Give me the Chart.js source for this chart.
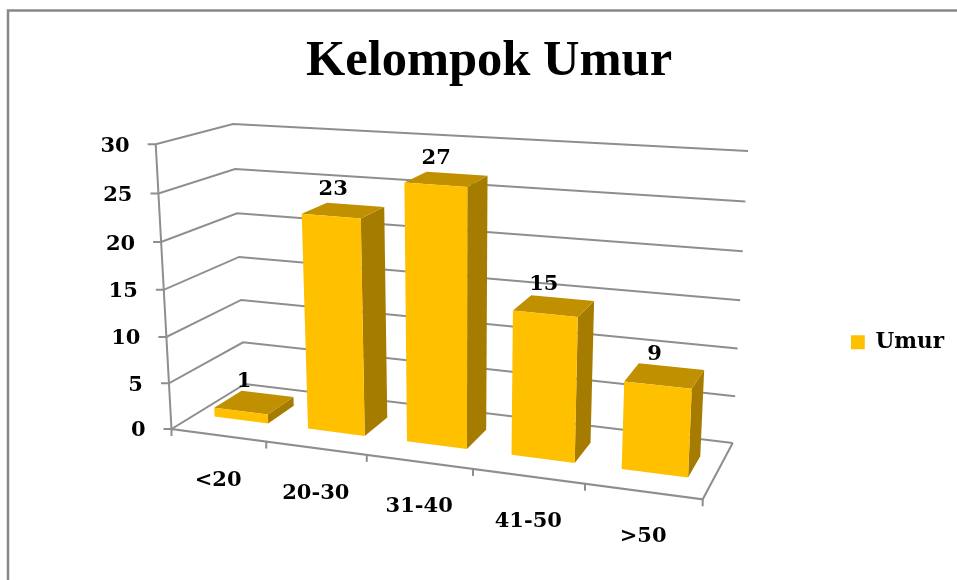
<!DOCTYPE html>
<html>
<head>
<meta charset="utf-8">
<title>Kelompok Umur</title>
<script src="https://cdn.jsdelivr.net/npm/chart.js@4/dist/chart.umd.min.js"></script>
<style>
  html, body { margin: 0; padding: 0; background: #fff; overflow: hidden; }
  #wrap { width: 957px; height: 580px; }
</style>
</head>
<body>
<div id="wrap"><canvas id="chart"></canvas></div>
<script>
const TITLE = 'Kelompok Umur';
const SERIES_NAME = 'Umur';
const categories = ['<20', '20-30', '31-40', '41-50', '>50'];
const values = [1, 23, 27, 15, 9];
const yTicks = { min: 0, max: 30, stepSize: 5 };

const FONT = "'DejaVu Serif', serif";
const COLORS = { front: '#FFC000', top: '#C09000', side: '#A67C00', line: '#8E8E8E', text: '#000' };

// screen corners of the 3D box, excel style perspective
const BOX = {
  fl0: [171.5, 429], fr0: [702.7, 499.3], bl0: [245, 384], br0: [732.7, 443],
  fl1: [155.7, 144.3], fr1: [716, 185], bl1: [233, 124], br1: [748, 151],
};
const BAR_DEPTH = [0.33, 0.71];

const lerp = (a, b, t) => [a[0] + (b[0] - a[0]) * t, a[1] + (b[1] - a[1]) * t];

/** u: along categories, v: along values, d: into the screen (all 0..1) */
function project(u, v, d) {
  const pu = u - 0.135 * u * (1 - u);
  const pv = v - 0.045 * v * (1 - v);
  const low = lerp(lerp(BOX.fl0, BOX.fr0, pu), lerp(BOX.bl0, BOX.br0, pu), d);
  const high = lerp(lerp(BOX.fl1, BOX.fr1, pu), lerp(BOX.bl1, BOX.br1, pu), d);
  return lerp(low, high, pv);
}

function path(ctx, pts) {
  ctx.beginPath();
  pts.forEach((p, i) => (i ? ctx.lineTo(p[0], p[1]) : ctx.moveTo(p[0], p[1])));
}

const uOf = (chart, px) => (px - chart.scales.x.left) / chart.scales.x.width;
const vOf = (chart, py) => (chart.scales.y.bottom - py) / chart.scales.y.height;

const frame = {
  id: 'frame',
  beforeDraw(chart) {
    const ctx = chart.ctx;
    ctx.save();
    ctx.strokeStyle = '#888';
    ctx.lineWidth = 2.5;
    ctx.strokeRect(8, 10.5, 1200, 1200);
    ctx.restore();
  },
};

const box3d = {
  id: 'box3d',
  beforeDatasetsDraw(chart) {
    const { ctx, scales: { x, y } } = chart;
    ctx.save();
    ctx.strokeStyle = COLORS.line;
    ctx.lineWidth = 2;

    // value gridlines, side wall then back wall, with tick stub
    y.ticks.forEach((t) => {
      const v = vOf(chart, y.getPixelForValue(t.value));
      const a = project(0, v, 0);
      path(ctx, [[a[0] - 8, a[1]], a, project(0, v, 1), project(1, v, 1)]);
      ctx.stroke();
    });

    // y axis and floor outline
    path(ctx, [project(0, 1, 0), project(0, 0, 0), project(1, 0, 0), project(1, 0, 1)]);
    ctx.stroke();

    // category ticks on the front floor edge
    const step = x.width / categories.length;
    for (let i = 0; i <= categories.length; i++) {
      const p = project(uOf(chart, x.left + step * i), 0, 0);
      path(ctx, [p, [p[0], p[1] + 7]]);
      ctx.stroke();
    }

    // tick labels
    ctx.fillStyle = COLORS.text;
    ctx.font = `bold 21px ${FONT}`;
    ctx.textAlign = 'right';
    ctx.textBaseline = 'middle';
    y.ticks.forEach((t) => {
      const p = project(0, vOf(chart, y.getPixelForValue(t.value)), 0);
      ctx.fillText(t.label, p[0] - 26, p[1] + 2);
    });
    ctx.textAlign = 'center';
    categories.forEach((c, i) => {
      const p = project(uOf(chart, x.getPixelForValue(i)), 0, 0);
      ctx.fillText(c, p[0], p[1] + 45);
    });
    ctx.restore();
  },
  beforeDatasetDraw(chart, args) {
    const ctx = chart.ctx;
    const [d0, d1] = BAR_DEPTH;
    ctx.save();
    chart.getDatasetMeta(args.index).data.forEach((bar) => {
      const u0 = uOf(chart, bar.x - bar.width / 2);
      const u1 = uOf(chart, bar.x + bar.width / 2);
      const v = vOf(chart, bar.y);
      const faces = [
        [COLORS.side, [project(u1, 0, d0), project(u1, 0, d1), project(u1, v, d1), project(u1, v, d0)]],
        [COLORS.top, [project(u0, v, d0), project(u1, v, d0), project(u1, v, d1), project(u0, v, d1)]],
        [COLORS.front, [project(u0, 0, d0), project(u1, 0, d0), project(u1, v, d0), project(u0, v, d0)]],
      ];
      faces.forEach(([color, pts]) => {
        path(ctx, pts);
        ctx.fillStyle = color;
        ctx.fill();
      });
    });
    ctx.restore();
    return false; // own faces replace the flat bars
  },
  afterDatasetsDraw(chart) {
    const ctx = chart.ctx;
    ctx.save();
    ctx.fillStyle = COLORS.text;
    ctx.font = `bold 21px ${FONT}`;
    ctx.textAlign = 'center';
    ctx.textBaseline = 'middle';
    chart.getDatasetMeta(0).data.forEach((bar, i) => {
      const p = project(uOf(chart, bar.x), vOf(chart, bar.y), 0.52);
      ctx.fillText(String(values[i]), p[0] - 10, p[1] - 21);
    });
    ctx.restore();
  },
};

new Chart(document.getElementById('chart'), {
  type: 'bar',
  data: {
    labels: categories,
    datasets: [{
      label: SERIES_NAME,
      data: values,
      backgroundColor: COLORS.front,
      borderWidth: 0,
      barPercentage: 0.58,
      categoryPercentage: 1,
    }],
  },
  plugins: [frame, box3d],
  options: {
    responsive: true,
    maintainAspectRatio: false,
    animation: false,
    // big bottom padding only lifts the end-aligned legend, the 3D box is scaled back by project()
    layout: { padding: { left: 24, top: 32, right: 3, bottom: 227 } },
    plugins: {
      tooltip: { enabled: false },
      title: {
        display: true,
        text: TITLE,
        color: COLORS.text,
        font: { family: "'Liberation Serif', serif", size: 50.5, weight: 'bold' },
        padding: { top: 0, bottom: 0 },
      },
      legend: {
        position: 'right',
        align: 'end',
        labels: {
          color: COLORS.text,
          boxWidth: 14,
          boxHeight: 14,
          padding: 0,
          font: { family: FONT, size: 21.5, weight: 'bold' },
        },
      },
    },
    scales: {
      x: { display: false },
      y: { display: false, min: yTicks.min, max: yTicks.max, ticks: { stepSize: yTicks.stepSize } },
    },
  },
});
</script>
</body>
</html>
